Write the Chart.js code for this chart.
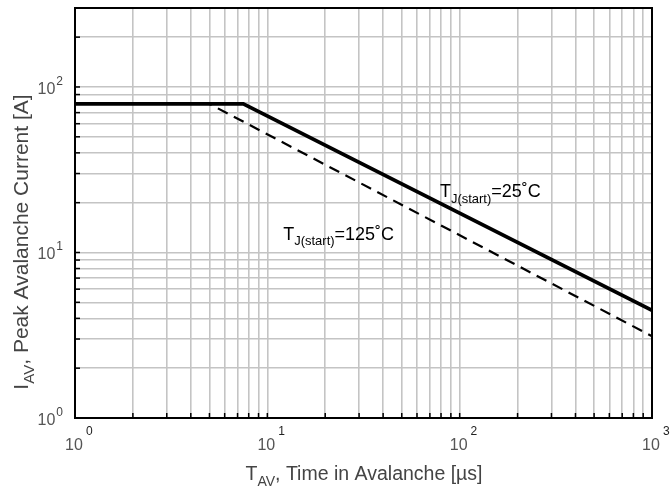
<!DOCTYPE html>
<html>
<head>
<meta charset="utf-8">
<script src="https://cdn.jsdelivr.net/npm/chart.js@4"></script>
<style>
  html, body { margin: 0; padding: 0; background: #fff; }
  #wrap { width: 670px; height: 495px; }
</style>
</head>
<body>
<div id="wrap"><canvas id="Chart01"></canvas></div>
<script>
/* Data */
const tj25X = [1, 7.5, 1000];
const tj25Y = [79, 79, 4.47];
const tj125X = [1, 5, 1000];
const tj125Y = [79, 79, 3.12];

const xTicks = [1,2,3,4,5,6,7,8,9,10,20,30,40,50,60,70,80,90,100,200,300,400,500,600,700,800,900,1000];
const yTicks = [1,2,3,4,5,6,7,8,9,10,20,30,40,50,60,70,80,90,100,200,300];
const xLabels = [[1,'0'],[10,'1'],[100,'2'],[1000,'3']];
const yLabels = [[1,'0'],[10,'1'],[100,'2']];

const FONT = '"Liberation Sans", Arial, sans-serif';

function pts(xs, ys) { return xs.map((v, i) => ({x: v, y: ys[i]})); }

// draws text made of normal and subscript parts
function richText(ctx, parts, x, y, size, align) {
  let w = 0;
  parts.forEach(p => {
    ctx.font = (p.sub ? size * 0.72 : size) + 'px ' + FONT;
    w += ctx.measureText(p.t).width;
  });
  let cx = align === 'center' ? x - w / 2 : x;
  parts.forEach(p => {
    ctx.font = (p.sub ? size * 0.72 : size) + 'px ' + FONT;
    ctx.textAlign = 'left';
    ctx.textBaseline = 'alphabetic';
    ctx.fillText(p.t, cx, p.sub ? y + size * 0.3 : y);
    cx += ctx.measureText(p.t).width;
  });
}

const decor = {
  id: 'decor',
  afterDraw(chart) {
    const ctx = chart.ctx, a = chart.chartArea;
    const xs = chart.scales.x, ys = chart.scales.y;
    ctx.save();
    // inward minor ticks
    ctx.strokeStyle = '#000';
    ctx.lineWidth = 1.5;
    xTicks.forEach(v => {
      const px = xs.getPixelForValue(v);
      ctx.beginPath(); ctx.moveTo(px, a.bottom); ctx.lineTo(px, a.bottom - 5); ctx.stroke();
    });
    yTicks.forEach(v => {
      const py = ys.getPixelForValue(v);
      ctx.beginPath(); ctx.moveTo(a.left, py); ctx.lineTo(a.left + 5, py); ctx.stroke();
    });
    // frame
    ctx.lineWidth = 2;
    ctx.strokeRect(a.left, a.top, a.right - a.left, a.bottom - a.top);

    // tick labels with exponents
    ctx.textBaseline = 'alphabetic';
    xLabels.forEach(([v, e]) => {
      const px = xs.getPixelForValue(v);
      ctx.font = '16px ' + FONT;
      ctx.textAlign = 'center';
      ctx.fillStyle = '#555';
      ctx.fillText('10', px - 1, a.bottom + 32);
      const w = ctx.measureText('10').width;
      ctx.font = '12px ' + FONT;
      ctx.textAlign = 'left';
      ctx.fillStyle = '#222';
      ctx.fillText(e, px - 1 + w / 2 + 3, a.bottom + 17);
    });
    yLabels.forEach(([v, e]) => {
      const py = ys.getPixelForValue(v);
      ctx.font = '12px ' + FONT;
      ctx.textAlign = 'right';
      ctx.fillStyle = '#444';
      ctx.fillText(e, a.left - 12, py - 2);
      const we = ctx.measureText(e).width;
      ctx.font = '16px ' + FONT;
      ctx.fillStyle = '#555';
      ctx.fillText('10', a.left - 13 - we, py + 7);
    });

    // axis titles
    ctx.fillStyle = '#444';
    richText(ctx, [{t: 'T'}, {t: 'AV', sub: true}, {t: ', Time in Avalanche [µs]'}],
      364, 480, 19.5, 'center');
    ctx.save();
    ctx.translate(28, 242);
    ctx.rotate(-Math.PI / 2);
    richText(ctx, [{t: 'I'}, {t: 'AV', sub: true}, {t: ', Peak Avalanche Current [A]'}],
      0, 0, 21, 'center');
    ctx.restore();

    // curve labels
    ctx.fillStyle = '#000';
    richText(ctx, [{t: 'T'}, {t: 'J(start)', sub: true}, {t: '=25˚C'}],
      xs.getPixelForValue(79), ys.getPixelForValue(21.5), 18, 'left');
    richText(ctx, [{t: 'T'}, {t: 'J(start)', sub: true}, {t: '=125˚C'}],
      xs.getPixelForValue(12.1), ys.getPixelForValue(11.9), 18, 'left');
    ctx.restore();
  }
};

const config01 = {
  type: 'scatter',
  data: {
    datasets: [{
      label: 'TJ(start)=25˚C',
      data: pts(tj25X, tj25Y),
      showLine: true,
      borderColor: '#000',
      borderWidth: 3.6,
      pointRadius: 0
    }, {
      label: 'TJ(start)=125˚C',
      data: pts(tj125X, tj125Y),
      showLine: true,
      borderColor: '#000',
      borderWidth: 2.2,
      borderDash: [11, 7],
      pointRadius: 0
    }]
  },
  options: {
    responsive: true,
    maintainAspectRatio: false,
    animation: false,
    layout: {padding: {left: 0, top: 8, right: 18, bottom: 0}},
    plugins: {legend: {display: false}, tooltip: {enabled: false}},
    scales: {
      x: {
        type: 'logarithmic', min: 1, max: 1000,
        afterBuildTicks: s => { s.ticks = xTicks.map(v => ({value: v})); },
        afterFit: s => { s.height = 77; },
        ticks: {display: false, autoSkip: false},
        grid: {color: '#c4c4c4', lineWidth: 1.6, drawTicks: false},
        border: {display: false}
      },
      y: {
        type: 'logarithmic', min: 1, max: 300,
        afterBuildTicks: s => { s.ticks = yTicks.map(v => ({value: v})); },
        afterFit: s => { s.width = 75; },
        ticks: {display: false, autoSkip: false},
        grid: {color: '#c4c4c4', lineWidth: 1.6, drawTicks: false},
        border: {display: false}
      }
    }
  },
  plugins: [decor]
};

const ctxch01 = document.getElementById('Chart01');
new Chart(ctxch01, config01);
</script>
</body>
</html>
